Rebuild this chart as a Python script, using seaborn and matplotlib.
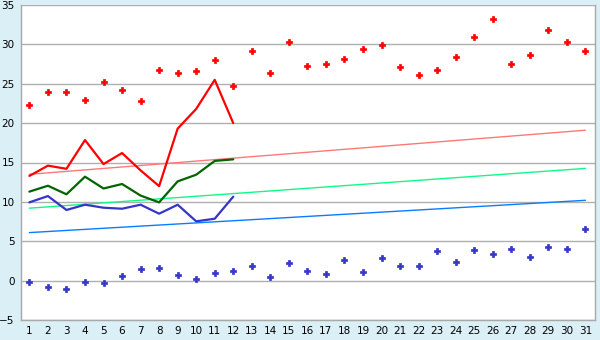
import numpy as np
import pandas as pd
import matplotlib
matplotlib.use("Agg")
import matplotlib.pyplot as plt
import seaborn as sns

days = list(range(1, 32))
max_pts = [22.3, 23.9, 23.9, 22.9, 25.2, 24.2, 22.8, 26.8, 26.4, 26.6,
           28.0, 24.7, 29.2, 26.4, 30.3, 27.2, 27.5, 28.2, 29.4, 29.9,
           27.1, 26.1, 26.7, 28.4, 30.9, 33.2, 27.5, 28.7, 31.8, 30.3, 29.2]
min_pts = [-0.2, -0.85, -1.1, -0.2, -0.35, 0.55, 1.43, 1.56, 0.67, 0.16,
           0.92, 1.22, 1.81, 0.41, 2.19, 1.22, 0.8, 2.57, 1.05, 2.83,
           1.81, 1.81, 3.72, 2.32, 3.85, 3.34, 3.97, 2.96, 4.23, 3.97, 6.51]
line_days = list(range(1, 13))
max_line = [13.3, 14.6, 14.2, 17.85, 14.8, 16.2, 14.0, 12.0, 19.3, 21.8, 25.5, 20.0]
mean_line = [11.3, 12.05, 10.96, 13.2, 11.7, 12.27, 10.8, 9.94, 12.6, 13.45, 15.2, 15.4]
min_line = [9.94, 10.74, 8.97, 9.64, 9.26, 9.13, 9.64, 8.5, 9.64, 7.53, 7.86, 10.66]
trend_days = [1, 31]
trend_max = [13.5, 19.1]
trend_mean = [9.2, 14.25]
trend_min = [6.1, 10.2]
y_ticks = [-5, 0, 5, 10, 15, 20, 25, 30, 35]

sns.set_style("white")
plt.rcParams['font.family'] = ['DejaVu Sans']

fig = plt.figure(figsize=(6, 3.4), dpi=100, facecolor='#daeff6')
ax = fig.add_axes([20.5/600, 20/340, (595-20.5)/600, (320-5)/340])
ax.set_facecolor('white')

for y in y_ticks:
    ax.axhline(y, color='#b0b0b0', lw=1.0, zorder=0)

sns.lineplot(x=trend_days, y=trend_max, color='#ff7878', lw=1.0, ax=ax)
sns.lineplot(x=trend_days, y=trend_mean, color='#10f888', lw=1.0, ax=ax)
sns.lineplot(x=trend_days, y=trend_min, color='#0a7cff', lw=1.0, ax=ax)

sns.lineplot(x=line_days, y=max_line, color='#ff0000', lw=1.6, ax=ax)
sns.lineplot(x=line_days, y=mean_line, color='#006400', lw=1.6, ax=ax)
sns.lineplot(x=line_days, y=min_line, color='#3535c8', lw=1.6, ax=ax)

sns.scatterplot(x=days, y=max_pts, color='#ff0000', marker='P', s=13,
                linewidth=0.5, edgecolor='#ff0000', ax=ax, zorder=5)
sns.scatterplot(x=days, y=min_pts, color='#3535c8', marker='P', s=13,
                linewidth=0.5, edgecolor='#3535c8', ax=ax, zorder=5)

ax.set_xlim(0.52, 31.52)
ax.set_ylim(-5, 35)
ax.set_xticks(days)
ax.set_xticklabels([str(d) for d in days])
ax.set_yticks(y_ticks)
ax.set_yticklabels([str(v).replace('-', '\u2212') for v in y_ticks])
ax.tick_params(axis='both', labelsize=7.5, colors='#000000', length=3.2,
               width=1, direction='out', pad=1.0)
ax.tick_params(axis='both', color='#a0a0a0')
for side in ['left', 'bottom', 'right']:
    ax.spines[side].set_color('#a8a8a8')
    ax.spines[side].set_linewidth(1.0)
ax.spines['top'].set_visible(False)
ax.set_xlabel('')
ax.set_ylabel('')

fig.savefig('out.png', dpi=100, facecolor=fig.get_facecolor())
